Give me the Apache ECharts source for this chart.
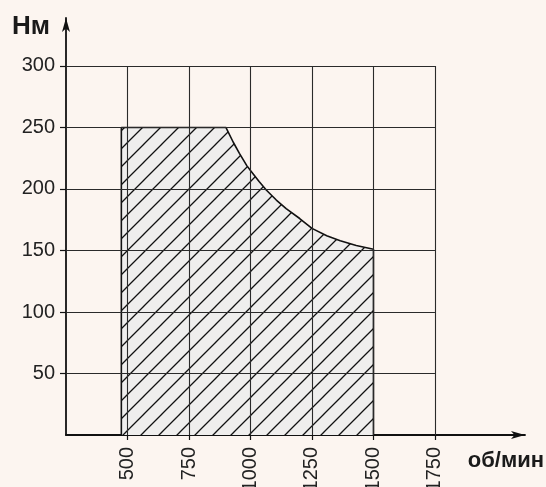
<!DOCTYPE html>
<html><head><meta charset="utf-8">
<script src="https://cdn.jsdelivr.net/npm/echarts@6/dist/echarts.min.js"></script>
<style>html,body{margin:0;padding:0;background:#fcf5f0;}#c{width:546px;height:487px;}</style>
</head><body><div id="c"></div>
<script>
// Data
const xTicks = [500, 750, 1000, 1250, 1500, 1750];
const yTicks = [50, 100, 150, 200, 250, 300];
const envelopeRpm = [475, 475, 900, 930, 955, 985, 1000, 1035, 1065, 1105, 1145, 1200, 1250, 1310, 1365, 1430, 1500, 1500];
const envelopeNm  = [0, 250, 250, 238, 229, 219, 215, 206, 199, 191, 184, 176, 168, 162, 158, 154, 151, 0];

const xMin = 250, xMax = 2116, yMin = 0, yMax = 339;
const gridX0 = 250, gridX1 = 1750, gridY1 = 300;

// hatch pattern
const tile = 18;
const cv = document.createElement('canvas');
cv.width = tile; cv.height = tile;
const g = cv.getContext('2d');
g.fillStyle = '#efeeed';
g.fillRect(0, 0, tile, tile);
g.strokeStyle = '#111';
g.lineWidth = 1.3;
g.beginPath();
g.moveTo(-tile, tile); g.lineTo(tile, -tile);
g.moveTo(0, tile * 2); g.lineTo(tile * 2, 0);
g.moveTo(0, tile); g.lineTo(tile, 0);
g.stroke();

const gridLines = [];
xTicks.forEach(v => gridLines.push({coords: [[v, 0], [v, gridY1]]}));
yTicks.forEach(v => gridLines.push({coords: [[gridX0, v], [gridX1, v]]}));

const font = "'Liberation Sans', Arial, sans-serif";
const chart = echarts.init(document.getElementById('c'));
chart.setOption({
  backgroundColor: '#fcf5f0',
  animation: false,
  grid: {left: 66, right: 21, top: 18, bottom: 52, containLabel: false, outerBoundsMode: 'none'},
  xAxis: {
    type: 'value', min: xMin, max: xMax,
    splitLine: {show: false},
    axisLine: {show: true, lineStyle: {color: '#111', width: 1.8}, symbol: ['none', 'arrow'], symbolSize: [6, 14]},
    axisTick: {show: true, length: 5, lineStyle: {color: '#111', width: 1.2}, customValues: xTicks},
    axisLabel: {show: true, rotate: 90, margin: 12, fontSize: 20, color: '#222', fontFamily: font, customValues: xTicks, formatter: v => String(v)}
  },
  yAxis: {
    type: 'value', min: yMin, max: yMax,
    splitLine: {show: false},
    axisLine: {show: true, lineStyle: {color: '#111', width: 1.8}, symbol: ['none', 'arrow'], symbolSize: [6, 14]},
    axisTick: {show: true, length: 6, lineStyle: {color: '#111', width: 1.2}, customValues: yTicks},
    axisLabel: {show: true, margin: 11, fontSize: 20, color: '#222', fontFamily: font, customValues: yTicks, formatter: v => String(v)}
  },
  graphic: [
    {type: 'text', left: 12, top: 14, style: {text: 'Нм', font: "bold 26px 'Liberation Sans', Arial, sans-serif", fill: '#1a1a1a'}},
    {type: 'text', right: 2, top: 450, style: {text: 'об/мин', font: "bold 22px 'Liberation Sans', Arial, sans-serif", fill: '#1a1a1a'}}
  ],
  series: [
    {
      type: 'line', z: 2, silent: true,
      data: envelopeRpm.map((x, i) => [x, envelopeNm[i]]),
      symbol: 'none',
      lineStyle: {color: '#111', width: 1.6},
      areaStyle: {color: {image: cv, repeat: 'repeat'}, opacity: 1}
    },
    {
      type: 'lines', coordinateSystem: 'cartesian2d', z: 3, silent: true,
      data: gridLines,
      lineStyle: {color: '#2a2a2a', width: 1.1, opacity: 1}
    }
  ]
});
</script></body></html>
